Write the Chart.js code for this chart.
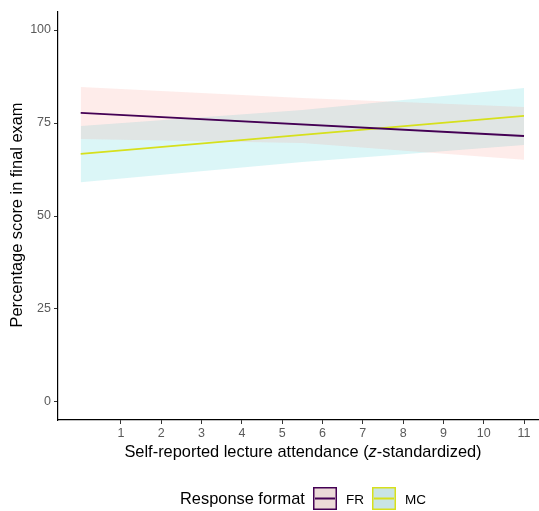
<!DOCTYPE html>
<html lang="en">
<head>
    <meta charset="UTF-8">
    <title>Lecture attendance and exam score</title>
    <script src="https://cdn.jsdelivr.net/npm/chart.js"></script>
    <style>
        body {
            margin: 0;
            padding: 0;
            background-color: white;
        }
        .chart-container {
            width: 539px;
            height: 511px;
        }
    </style>
</head>
<body>
    <div class="chart-container">
        <canvas id="examChart"></canvas>
    </div>

    <script>
        // values
        const lineX = [0, 11];
        const frLine = [77.7, 71.5];
        const mcLine = [66.7, 76.9];

        const bandX = [0, 5.5, 11];
        const frUpper = [84.7, 81.7, 79.3];
        const frLower = [70.7, 69.6, 65.1];
        const mcUpper = [74.2, 78.5, 84.4];
        const mcLower = [59.1, 64.5, 69.1];

        const xTicks = [1, 2, 3, 4, 5, 6, 7, 8, 9, 10, 11];
        const yTicks = [0, 25, 50, 75, 100];

        const FR_COLOR = '#440154';
        const MC_COLOR = '#d6e01c';
        const FR_FILL = 'rgba(248, 118, 109, 0.14)';
        const MC_FILL = 'rgba(0, 191, 196, 0.14)';
        const FONT = '"Liberation Sans", Arial, sans-serif';

        const pts = (xs, ys) => xs.map((x, i) => ({ x: x, y: ys[i] }));

        // axis titles and legend drawn by hand (italic z, ggplot style keys)
        const decorations = {
            id: 'decorations',
            afterDraw(chart) {
                const c = chart.ctx;
                c.save();
                c.fillStyle = 'black';
                c.textBaseline = 'middle';

                // x title with italic z
                const parts = [
                    ['Self-reported lecture attendance (', 'normal'],
                    ['z', 'italic'],
                    ['-standardized)', 'normal']
                ];
                let total = 0;
                parts.forEach(p => {
                    c.font = p[1] + ' 16.4px ' + FONT;
                    total += c.measureText(p[0]).width;
                });
                let x = 303 - total / 2;
                c.textAlign = 'left';
                parts.forEach(p => {
                    c.font = p[1] + ' 16.4px ' + FONT;
                    c.fillText(p[0], x, 452);
                    x += c.measureText(p[0]).width;
                });

                // y title
                c.save();
                c.translate(17, 215);
                c.rotate(-Math.PI / 2);
                c.textAlign = 'center';
                c.font = '16.4px ' + FONT;
                c.fillText('Percentage score in final exam', 0, 0);
                c.restore();

                // legend
                c.font = '16.4px ' + FONT;
                c.textAlign = 'left';
                c.fillText('Response format', 180, 499);

                const keys = [
                    { label: 'FR', color: FR_COLOR, fill: FR_FILL, x: 313 },
                    { label: 'MC', color: MC_COLOR, fill: MC_FILL, x: 372 }
                ];
                keys.forEach(k => {
                    c.fillStyle = '#ebebeb';
                    c.fillRect(k.x, 487, 24, 23);
                    c.fillStyle = k.fill;
                    c.fillRect(k.x, 487, 24, 23);
                    c.strokeStyle = k.color;
                    c.lineWidth = 1.5;
                    c.strokeRect(k.x + 0.75, 487.75, 22.5, 21.5);
                    c.beginPath();
                    c.moveTo(k.x + 2, 498.5);
                    c.lineTo(k.x + 22, 498.5);
                    c.lineWidth = 2;
                    c.stroke();
                    c.fillStyle = 'black';
                    c.font = '13.5px ' + FONT;
                    c.fillText(k.label, k.x + 33, 500);
                });
                c.restore();
            }
        };

        const ctx = document.getElementById('examChart').getContext('2d');

        const chart = new Chart(ctx, {
            type: 'line',
            data: {
                datasets: [
                    {
                        label: 'FR',
                        data: pts(lineX, frLine),
                        borderColor: FR_COLOR,
                        borderWidth: 1.8,
                        pointRadius: 0,
                        fill: false,
                        order: 0
                    },
                    {
                        label: 'MC',
                        data: pts(lineX, mcLine),
                        borderColor: MC_COLOR,
                        borderWidth: 1.8,
                        pointRadius: 0,
                        fill: false,
                        order: 0
                    },
                    {
                        label: 'FR upper',
                        data: pts(bandX, frUpper),
                        borderWidth: 0,
                        borderColor: 'transparent',
                        backgroundColor: FR_FILL,
                        pointRadius: 0,
                        fill: '+1',
                        order: 1
                    },
                    {
                        label: 'FR lower',
                        data: pts(bandX, frLower),
                        borderWidth: 0,
                        borderColor: 'transparent',
                        pointRadius: 0,
                        fill: false,
                        order: 1
                    },
                    {
                        label: 'MC upper',
                        data: pts(bandX, mcUpper),
                        borderWidth: 0,
                        borderColor: 'transparent',
                        backgroundColor: MC_FILL,
                        pointRadius: 0,
                        fill: '+1',
                        order: 1
                    },
                    {
                        label: 'MC lower',
                        data: pts(bandX, mcLower),
                        borderWidth: 0,
                        borderColor: 'transparent',
                        pointRadius: 0,
                        fill: false,
                        order: 1
                    }
                ]
            },
            options: {
                responsive: true,
                maintainAspectRatio: false,
                animation: false,
                layout: { padding: { top: 12, right: 0, bottom: 0, left: 0 } },
                scales: {
                    x: {
                        type: 'linear',
                        min: -0.563,
                        max: 11.372,
                        afterBuildTicks: s => { s.ticks = xTicks.map(v => ({ value: v })); },
                        afterFit: s => { s.height = 91; },
                        ticks: {
                            color: '#5a5a5a',
                            font: { family: FONT, size: 12.5 },
                            padding: 2,
                            maxRotation: 0
                        },
                        grid: {
                            drawOnChartArea: false,
                            tickLength: 4,
                            tickColor: '#333333'
                        },
                        border: { color: 'black', width: 1.2 }
                    },
                    y: {
                        min: -4.84,
                        max: 104.84,
                        afterBuildTicks: s => { s.ticks = yTicks.map(v => ({ value: v })); },
                        afterFit: s => { s.width = 58; },
                        ticks: {
                            color: '#5a5a5a',
                            font: { family: FONT, size: 12.5 },
                            padding: 3
                        },
                        grid: {
                            drawOnChartArea: false,
                            tickLength: 4,
                            tickColor: '#333333'
                        },
                        border: { color: 'black', width: 1.2 }
                    }
                },
                plugins: {
                    legend: { display: false },
                    tooltip: { enabled: false }
                }
            },
            plugins: [decorations]
        });
    </script>
</body>
</html>
